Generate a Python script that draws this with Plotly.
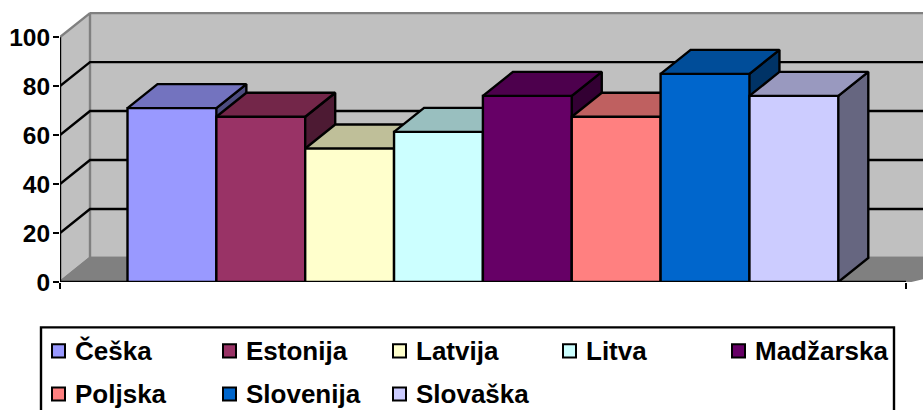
import plotly.graph_objects as go

countries = ['Češka', 'Estonija', 'Latvija', 'Litva', 'Madžarska', 'Poljska', 'Slovenija', 'Slovaška']
values = [71, 67.5, 54.5, 61.3, 76, 67.5, 85, 76]
y_ticks = [0, 20, 40, 60, 80, 100]

front_colors = ['#9999ff', '#993366', '#ffffcc', '#ccffff', '#660066', '#ff8080', '#0066cc', '#ccccff']
top_colors = ['#7373bf', '#732649', '#bfbf99', '#99bfbf', '#4d004d', '#bf6060', '#004d99', '#9999bf']
side_colors = ['#4d4d80', '#4d1a33', '#808066', '#668080', '#330033', '#804040', '#003366', '#666680']

# pixel layout of the page
W, H = 923, 410
LEFT, BOTTOM, TOP = 60, 281.7, 10
BAR_PX = 88.85
UNIT_PX = 2.446
FIRST_EDGE_PX = 127.5
DX = 30 / BAR_PX      # depth of the fake 3d box, in axis units
DY = 24 / UNIT_PX
LW = 2.4

x_min = -0.5 - (FIRST_EDGE_PX - LEFT) / BAR_PX
x_max = -0.5 + (W - FIRST_EDGE_PX) / BAR_PX
x_end = -0.5 + (906 - FIRST_EDGE_PX) / BAR_PX
y_top = (BOTTOM - TOP) / UNIT_PX

TICK_FONT = dict(family='Liberation Sans', size=24.5, color='black')
LEGEND_FONT = dict(family='Liberation Sans', size=26, color='black')


def poly(xs, ys, fill, line='black', width=LW):
    return go.Scatter(x=xs, y=ys, mode='lines', fill='toself', fillcolor=fill,
                      line=dict(color=line, width=width), hoverinfo='skip', showlegend=False)


def segment(xs, ys, color='black', width=LW):
    return go.Scatter(x=xs, y=ys, mode='lines', line=dict(color=color, width=width),
                      hoverinfo='skip', showlegend=False)


fig = go.Figure()

# walls and floor
fig.add_trace(poly([x_min + DX, x_max + 1, x_max + 1, x_min + DX], [100 + DY, 100 + DY, DY, DY], '#c0c0c0', '#808080'))
fig.add_trace(poly([x_min, x_min + DX, x_min + DX, x_min], [0, DY, 100 + DY, 100], '#c0c0c0', '#808080'))
fig.add_trace(poly([x_min, x_min + DX, x_max + 1, x_end], [0, DY, DY, 0], '#808080', '#808080'))

# gridlines
for t in y_ticks[1:-1]:
    fig.add_trace(segment([x_min, x_min + DX, x_max + 1], [t, t + DY, t + DY]))

# tops and sides, left to right so each bar hides the previous one
for i, v in enumerate(values):
    l, r = i - 0.5, i + 0.5
    fig.add_trace(poly([r, r + DX, r + DX, r], [0, DY, v + DY, v], side_colors[i]))
    fig.add_trace(poly([l, l + DX, r + DX, r], [v, v + DY, v + DY, v], top_colors[i]))

# axis lines
fig.add_trace(segment([x_min, x_min], [0, 100]))
fig.add_trace(segment([x_min, x_end], [0, 0]))

# front faces on an overlay so they sit over everything else
fig.add_trace(go.Bar(x=list(range(len(values))), y=values, width=1, xaxis='x2', yaxis='y2',
                     marker=dict(color=front_colors, line=dict(color='black', width=LW)),
                     showlegend=False))

fig.update_layout(
    width=W, height=H, autosize=False,
    margin=dict(l=LEFT, r=0, t=TOP, b=H - BOTTOM, pad=0),
    paper_bgcolor='white', plot_bgcolor='white', showlegend=False,
    font=dict(family='Liberation Sans', color='black'),
    xaxis=dict(range=[x_min, x_max], tickvals=[x_min, x_end], ticktext=['', ''], ticks='outside',
               ticklen=6, tickwidth=2, tickcolor='black', showgrid=False, zeroline=False),
    yaxis=dict(range=[0, y_top], tickvals=y_ticks, ticktext=[f'<b>{t}</b>' for t in y_ticks], ticks='outside',
               ticklen=6, tickwidth=2, tickcolor='black', showgrid=False, zeroline=False,
               tickfont=TICK_FONT, ticklabelstandoff=-2),
    xaxis2=dict(range=[x_min, x_max], overlaying='x', visible=False),
    yaxis2=dict(range=[0, y_top], overlaying='y', visible=False),
)


# legend, laid out by hand because the row spacing of the original is wider than a native legend
def paper_x(px):
    return (px - LEFT) / (W - LEFT)


def paper_y(py):
    return (BOTTOM - py) / (BOTTOM - TOP)


fig.add_shape(type='rect', xref='paper', yref='paper', x0=paper_x(41), x1=paper_x(894), y0=paper_y(414), y1=paper_y(327),
              line=dict(color='black', width=LW), fillcolor='white')

col_px = [51, 222, 392, 562, 731]
row_px = [350.5, 393.5]
for i, name in enumerate(countries):
    cx, cy = col_px[i % 5], row_px[i // 5]
    fig.add_shape(type='rect', xref='paper', yref='paper', x0=paper_x(cx + 1), x1=paper_x(cx + 14),
                  y0=paper_y(cy + 6.5), y1=paper_y(cy - 6.5),
                  line=dict(color='black', width=2), fillcolor=front_colors[i])
    fig.add_annotation(text=f'<b>{name}</b>', xref='paper', yref='paper', x=paper_x(cx + 24), y=paper_y(cy),
                       xanchor='left', yanchor='middle', showarrow=False, font=LEGEND_FONT, borderpad=0, borderwidth=0)

fig.write_html('out.html', post_script="document.body.style.margin='0';", config=dict(displayModeBar=False))
